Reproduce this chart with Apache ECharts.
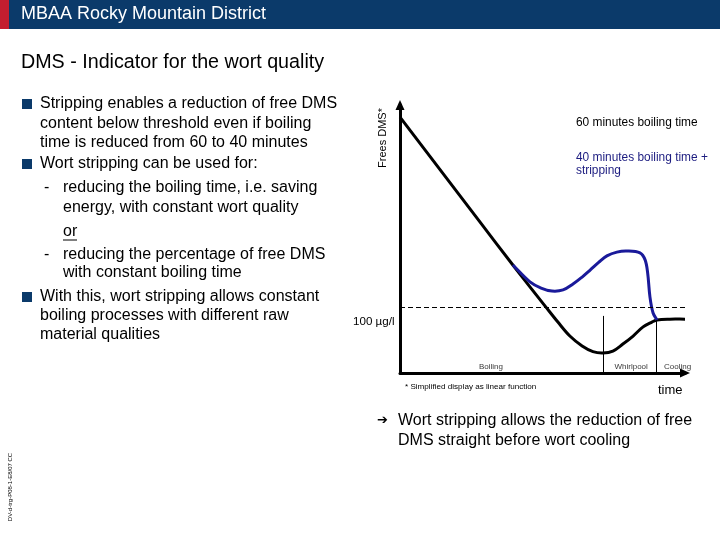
<!DOCTYPE html>
<html><head><meta charset="utf-8">
<script src="https://cdn.jsdelivr.net/npm/echarts@6/dist/echarts.min.js"></script>
<style>html,body{margin:0;padding:0;background:#fff}#c{width:720px;height:540px}</style>
</head><body><div id="c"></div>
<script>
// Relative units: time 0..100, free DMS 0..100
const time60 = [0, 28.1, 39.6, 51.2, 55.4, 59.6, 63.9, 67.7, 71.2, 74.7, 78.2, 81.8, 85.3, 88.4, 90.2, 94.7, 100];
const dms60 = [95.5, 56.3, 40.3, 24.6, 19.0, 13.8, 10.1, 8.0, 7.5, 8.2, 10.8, 13.8, 17.2, 19.0, 19.8, 20.1, 20.1];
const time40 = [39.6, 45.6, 49.5, 53.3, 57.2, 60.7, 63.9, 66.7, 69.8, 72.6, 76.1, 79.6, 84.2, 86.0, 86.9, 87.7, 88.8, 90.2];
const dms40 = [40.3, 34.0, 31.7, 30.6, 31.0, 33.2, 35.8, 38.4, 41.4, 43.7, 45.1, 45.5, 44.8, 42.2, 37.3, 28.4, 22.4, 19.8];
const threshold = 24.6;
const thresholdEnd = 100;
const phaseBounds = [71.2, 90];
const phaseBoundTops = [21.3, 19.8];
const phaseNames = ['Boiling', 'Whirlpool', 'Cooling'];
const phaseLabelX = [31.9, 81.1, 97.4];
const phaseLabelY = 2.2;

const bulletLines = [
  ['sq', 'Stripping enables a reduction of free DMS', 104],
  ['', 'content below threshold even if boiling', 124],
  ['', 'time is reduced from 60 to 40 minutes', 143],
  ['sq', 'Wort stripping can be used for:', 164],
  ['-', 'reducing the boiling time, i.e. saving', 188],
  ['c', 'energy, with constant wort quality', 208],
  ['u', 'or', 232],
  ['-', 'reducing the percentage of free DMS', 255],
  ['c', 'with constant boiling time', 273],
  ['sq', 'With this, wort stripping allows constant', 297],
  ['', 'boiling processes with different raw', 316],
  ['', 'material qualities', 335]
];

const F = '"Liberation Sans", Arial, sans-serif';
const NAVY = '#0b3a6a';
function txt(x, y, text, size, fill, extra) {
  const e = {type: 'text', x: x, y: y, silent: true, z: 100,
    style: {text: text, font: size + 'px ' + F, fill: fill || '#000', textAlign: 'left', textVerticalAlign: 'middle'}};
  if (extra) Object.assign(e, extra);
  return e;
}
const BS = 16;
const g = [];
g.push({type: 'rect', shape: {x: 0, y: 0, width: 720, height: 29}, style: {fill: NAVY}, silent: true});
g.push({type: 'rect', shape: {x: 0, y: 0, width: 9, height: 29}, style: {fill: '#c41e2f'}, silent: true});
g.push(txt(21, 14, 'MBAA Rocky Mountain District', 18, '#fff'));
g.push(txt(21, 63, 'DMS - Indicator for the wort quality', 19.7));
bulletLines.forEach(function (b) {
  const kind = b[0], t = b[1], y = b[2];
  if (kind === 'sq') {
    g.push({type: 'rect', shape: {x: 22, y: y - 5, width: 10, height: 10}, style: {fill: NAVY}, silent: true});
    g.push(txt(40, y, t, BS));
  } else if (kind === '-') {
    g.push(txt(44, y, '-', BS));
    g.push(txt(63, y, t, BS));
  } else if (kind === 'c') {
    g.push(txt(63, y, t, BS));
  } else if (kind === 'u') {
    g.push(txt(63, y, t, BS));
    g.push({type: 'line', shape: {x1: 63, y1: y + 8, x2: 77, y2: y + 8}, style: {stroke: '#000', lineWidth: 1}, silent: true});
  } else {
    g.push(txt(40, y, t, BS));
  }
});
g.push(txt(383, 138, 'Frees DMS*', 11, '#000', {rotation: Math.PI / 2, style: {text: 'Frees DMS*', font: '11px ' + F, fill: '#000', textAlign: 'center', textVerticalAlign: 'middle'}}));
g.push(txt(576, 123, '60 minutes boiling time', 11.9));
g.push(txt(576, 158, '40 minutes boiling time +', 11.9, '#1c1c80'));
g.push(txt(576, 171, 'stripping', 11.9, '#1c1c80'));
g.push(txt(353, 322, '100 µg/l', 11.6));
g.push(txt(405, 387, '* Simplified display as linear function', 8.1));
g.push(txt(658, 390, 'time', 13));
g.push(txt(377, 421, '➔', 13, '#000', {style: {text: '➔', font: 'bold 13px "DejaVu Sans", sans-serif', fill: '#000', textAlign: 'left', textVerticalAlign: 'middle'}}));
g.push(txt(398, 421, 'Wort stripping allows the reduction of free', 16));
g.push(txt(398, 441, 'DMS straight before wort cooling', 16));
g.push(txt(10, 487, 'DV-d-trg-P08-1-E8/07 CC', 6, '#000', {rotation: Math.PI / 2, style: {text: 'DV-d-trg-P08-1-E8/07 CC', font: '6px ' + F, fill: '#000', textAlign: 'center', textVerticalAlign: 'middle'}}));

const axisCommon = {
  type: 'value', min: 0, max: 100,
  axisLine: {show: true, onZero: false, symbol: ['none', 'triangle'], symbolSize: [9, 10], lineStyle: {color: '#000', width: 3}},
  axisTick: {show: false}, axisLabel: {show: false}, splitLine: {show: false}
};

// Smooth path through the points mapped by the axes (chord-weighted Catmull-Rom)
function smoothPath(pts, s) {
  const n = pts.length;
  const tan = pts.map(function (p, i) {
    const a = pts[Math.max(0, i - 1)], b = pts[Math.min(n - 1, i + 1)];
    const dp = Math.hypot(p[0] - a[0], p[1] - a[1]), dn = Math.hypot(b[0] - p[0], b[1] - p[1]);
    const tot = (dp + dn) || 1;
    return {vx: b[0] - a[0], vy: b[1] - a[1], rp: dp / tot, rn: dn / tot};
  });
  let d = 'M' + pts[0][0].toFixed(2) + ' ' + pts[0][1].toFixed(2);
  for (let i = 0; i < n - 1; i++) {
    const p = pts[i], q = pts[i + 1], tp = tan[i], tq = tan[i + 1];
    const c1x = p[0] + tp.vx * s * tp.rn, c1y = p[1] + tp.vy * s * tp.rn;
    const c2x = q[0] - tq.vx * s * tq.rp, c2y = q[1] - tq.vy * s * tq.rp;
    d += ' C' + [c1x, c1y, c2x, c2y, q[0], q[1]].map(function (v) { return v.toFixed(2); }).join(' ');
  }
  return d;
}
function curveSeries(name, xs, ys, color, z) {
  const data = xs.map(function (t, i) { return [t, ys[i]]; });
  return {
    name: name, type: 'custom', z: z, silent: true, data: data,
    encode: {x: 0, y: 1},
    renderItem: function (params, api) {
      if (params.dataIndex !== 0) return null;
      const pts = data.map(function (d) { return api.coord(d); });
      return {type: 'path', shape: {pathData: smoothPath(pts, 0.36)},
        style: {fill: 'none', stroke: color, lineWidth: 3, lineJoin: 'round', lineCap: 'butt'}};
    }
  };
}

const chart = echarts.init(document.getElementById('c'), null, {renderer: 'canvas'});
chart.setOption({
  animation: false,
  backgroundColor: '#fff',
  grid: {left: 400, top: 105, width: 285, height: 268, containLabel: false},
  xAxis: axisCommon,
  yAxis: axisCommon,
  graphic: g,
  series: [
    curveSeries('60 minutes boiling time', time60, dms60, '#000', 3),
    curveSeries('40 minutes boiling time + stripping', time40, dms40, '#1a1a9a', 4),
    {
      type: 'scatter', silent: true, symbolSize: 1, itemStyle: {color: 'rgba(0,0,0,0)'},
      data: phaseNames.map(function (n, i) { return [phaseLabelX[i], phaseLabelY, n]; }),
      label: {show: true, position: 'inside', formatter: function (p) { return p.value[2]; }, fontSize: 8, color: '#000', fontFamily: F},
      markLine: {
        silent: true, symbol: 'none', label: {show: false},
        lineStyle: {color: '#000', width: 1, type: 'solid'},
        data: [
          [{coord: [0, threshold], lineStyle: {type: [5, 3], color: '#000', width: 1}}, {coord: [thresholdEnd, threshold]}],
          [{coord: [phaseBounds[0], 0]}, {coord: [phaseBounds[0], phaseBoundTops[0]]}],
          [{coord: [phaseBounds[1], 0]}, {coord: [phaseBounds[1], phaseBoundTops[1]]}]
        ]
      }
    }
  ]
});
</script></body></html>
